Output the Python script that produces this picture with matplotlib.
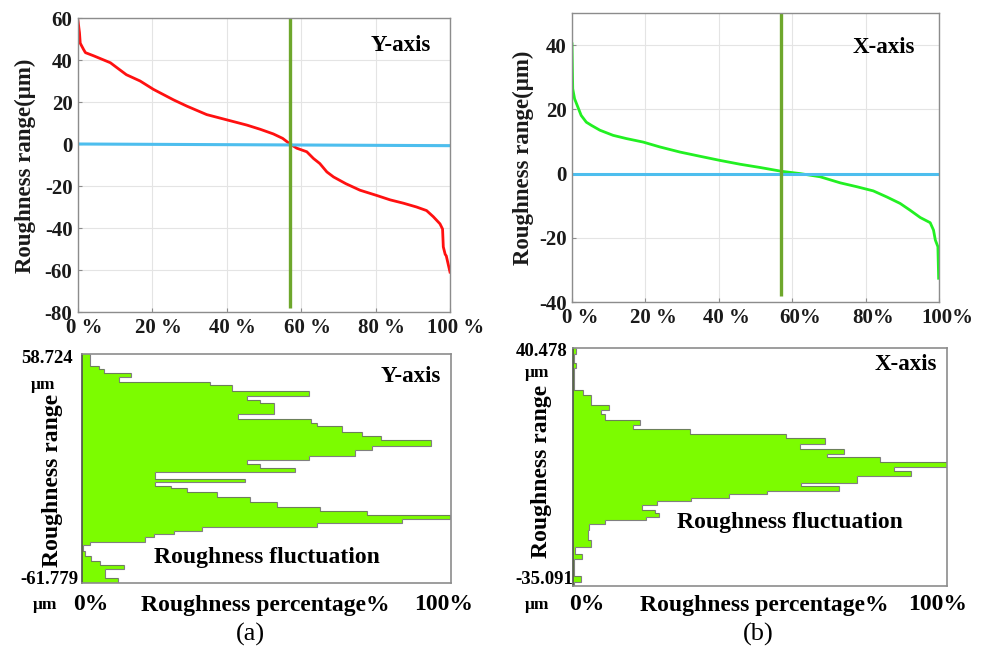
import numpy as np
import matplotlib
matplotlib.use("Agg")
import matplotlib.pyplot as plt
from matplotlib.transforms import ScaledTranslation

plt.rcParams["font.family"] = ["Liberation Serif", "DejaVu Serif"]
plt.rcParams["font.weight"] = "bold"
plt.rcParams["axes.unicode_minus"] = False

# ---- bearing curves (percentage of profile vs roughness height) ----
y_pct = [0, 0.4, 0.6, 1.5, 2, 4.2, 8.7, 10.5, 13, 16.7, 20.3, 25.7, 29.3, 34.6, 40,
         45.4, 49, 52.5, 55, 57, 58.8, 61.5, 63.3, 65, 66.9, 68.7, 72, 75.8, 80.3,
         83.9, 87.5, 91, 93.7, 95.5, 97.3, 98, 98.2, 98.7, 99, 100]
y_height = [58.7, 53, 48, 45, 43.5, 42, 38.7, 36.3, 33, 30, 26, 21, 18, 14, 11.5,
            9, 7, 4.8, 2.7, 0, -2, -3.7, -6.9, -9.3, -13.3, -15.7, -18.9, -22, -24.5,
            -26.6, -28.2, -30, -31.7, -34.6, -38, -40.5, -49, -52.5, -53.3, -61]
y_mean = [0.0, -0.8]

x_pct = [0, 0.1, 0.2, 0.7, 1.6, 2.5, 3.9, 5.3, 7.6, 11.2, 14.8, 19.4, 23.9, 29.4,
         34.8, 40.3, 45.8, 51.2, 57.1, 62.1, 67.6, 73.1, 77.6, 82.1, 85.8, 89.4,
         92.1, 94.9, 97.6, 98.5, 99, 99.7, 99.9]
x_height = [40.4, 33, 26.4, 23.3, 20.7, 18.1, 16, 15, 13.5, 11.9, 10.9, 9.8, 8.3,
            6.7, 5.4, 4.1, 2.9, 1.9, 0.7, 0, -1.0, -2.9, -4.1, -5.4, -7.3, -9.3,
            -11.4, -13.7, -15.3, -17.6, -20.7, -22.8, -32.6]
x_mean = [0.0, 0.0]

split_pct = 57

pct_ticks = [0, 20, 40, 60, 80, 100]
y_pct_labels = ["0 %", "20 %", "40 %", "60 %", "80 %", "100 %"]
x_pct_labels = ["0 %", "20 %", "40 %", "60%", "80%", "100%"]

# ---- roughness distributions (bin edges in um, widths in % of peak) ----
y_hist_edges = [58.72, 52.41, 50.83, 48.73, 46.88, 43.99, 42.41, 39.41, 36.62, 34.52,
                32.94, 27.15, 24.52, 22.57, 20.84, 17.84, 15.57, 13.47, 10.31, 8.21,
                5.05, 2.95, 0.84, -1.26, -3.37, -7.05, -8.79, -10.74, -11.79, -13.89,
                -16.52, -19.16, -21.79, -23.89, -26.00, -28.36, -30.21, -32.31, -34.41,
                -35.99, -37.57, -40.05, -41.78, -44.94, -47.57, -50.20, -52.31, -54.41,
                -59.15, -61.78]
y_hist_width = [2.1, 4.5, 6.0, 13.4, 10.0, 34.7, 40.6, 61.5, 44.7, 48.3, 52.0, 42.4,
                62.0, 63.7, 70.5, 76.0, 81.0, 94.5, 78.7, 74.0, 61.5, 44.7, 48.3, 57.8,
                19.8, 44.2, 19.8, 24.0, 28.4, 36.5, 45.6, 52.8, 64.6, 77.2, 99.8, 86.7,
                63.7, 32.5, 25.0, 19.4, 17.1, 2.2, 0.4, 0.8, 2.5, 5.0, 11.5, 6.2, 9.7]

x_hist_edges = [40.48, 38.67, 35.80, 34.22, 27.00, 25.41, 22.23, 20.86, 19.37, 17.69,
                16.09, 14.73, 13.07, 11.80, 10.05, 8.46, 6.87, 5.76, 4.17, 2.58, 1.31,
                -0.12, -2.35, -3.46, -4.89, -6.00, -7.11, -8.23, -9.34, -10.93, -12.04,
                -13.31, -14.27, -15.54, -17.29, -20.63, -22.85, -24.92, -26.51, -31.91,
                -33.82, -35.09]
x_hist_width = [0.9, 0.3, 0.9, 0.3, 2.7, 4.9, 9.5, 7.6, 8.5, 17.8, 16.0, 31.2, 57.0,
                67.5, 60.6, 72.4, 68.0, 82.2, 100, 85.9, 90.4, 76.0, 61.0, 71.2, 52.0,
                41.8, 31.6, 22.4, 18.4, 22.0, 23.0, 19.6, 8.5, 4.2, 4.0, 4.9, 0.5, 2.3,
                0.3, 2.2, 0.3]

y_range_labels = ["58.724", "-61.779"]
x_range_labels = ["40.478", "-35.091"]

W, H = 987, 652
fig = plt.figure(figsize=(W / 100, H / 100), dpi=100)


def rect(x0, y0, x1, y1):
    return [x0 / W, 1 - y1 / H, (x1 - x0) / W, (y1 - y0) / H]


def ftext(x, y, s, **kw):
    fig.text(x / W, 1 - y / H, s, ha="center", va="center", **kw)


FRAME = "#8c8c8c"
RED = "#ff1010"
LIME = "#22f022"
BLUE = "#4dbeee"
OLIVE = "#6ea72c"
FILL = "#7cfc00"


def curve_axes(pos, pct, height, mean, color, ylim, yticks, xlabels, name, name_xy,
               label_dx):
    ax = fig.add_axes(pos)
    ax.plot(pct, height, color=color, lw=2)
    ax.plot([0, 100], mean, color=BLUE, lw=2.2)
    ax.plot([split_pct, split_pct], [ylim[1], ylim[0] + 2], color=OLIVE, lw=2.4,
            solid_capstyle="butt")
    ax.set_xlim(0, 100)
    ax.set_ylim(*ylim)
    ax.set_xticks(pct_ticks)
    ax.set_xticklabels(xlabels)
    ax.set_yticks(yticks)
    ax.grid(True, color="#e4e4e4", lw=0.8)
    ax.set_axisbelow(True)
    for s in ax.spines.values():
        s.set_color(FRAME)
        s.set_linewidth(1.0)
    ax.tick_params(direction="in", length=3, color=FRAME, labelsize=15,
                   labelcolor="#1a1a1a", pad=4)
    for lab in ax.get_xticklabels():
        lab.set_fontweight("bold")
        lab.set_transform(lab.get_transform() +
                          ScaledTranslation(label_dx / 100, 0, fig.dpi_scale_trans))
    for lab in ax.get_yticklabels():
        lab.set_fontweight("bold")
    ax.text(*name_xy, name, transform=ax.transAxes, ha="center", va="center",
            fontsize=16.5, fontweight="bold")
    return ax


curve_axes(rect(78, 18, 450, 312), y_pct, y_height, y_mean, RED, (-80, 60),
           range(-80, 61, 20), y_pct_labels, "Y-axis", (0.868, 0.905), 6)
curve_axes(rect(572, 13, 939, 302), x_pct, x_height, x_mean, LIME, (-40, 50),
           range(-40, 41, 20), x_pct_labels, "X-axis", (0.85, 0.88), 8)
ftext(25, 166, "Roughness range(μm)", rotation=90, fontsize=16.5, fontweight="bold",
      color="#1a1a1a")
ftext(523, 158, "Roughness range(μm)", rotation=90, fontsize=16.5, fontweight="bold",
      color="#1a1a1a")


def hist_axes(pos, edges, widths, name, name_xy, fluct_xy):
    ax = fig.add_axes(pos)
    e = np.asarray(edges)[::-1]
    w = np.asarray(widths)[::-1]
    ax.stairs(w, e, orientation="horizontal", fill=True, color=FILL, baseline=0)
    ax.stairs(w, e, orientation="horizontal", fill=False, color="#6a6a6a", lw=0.8,
              alpha=0.85, baseline=None)
    ax.set_xlim(0, 100)
    ax.set_ylim(e[0], e[-1])
    ax.set_xticks([])
    ax.set_yticks([])
    for s in ax.spines.values():
        s.set_color(FRAME)
        s.set_linewidth(1.2)
    ax.spines["left"].set_color("#505050")
    ax.text(*name_xy, name, transform=ax.transAxes, ha="center", va="center",
            fontsize=16.5, fontweight="bold")
    ax.text(*fluct_xy, "Roughness fluctuation", transform=ax.transAxes,
            ha="center", va="center", fontsize=17, fontweight="bold")
    return ax


hist_axes(rect(82, 354, 451, 583), y_hist_edges, y_hist_width, "Y-axis",
          (0.89, 0.9), (0.50, 0.11))
hist_axes(rect(573, 348, 947, 586), x_hist_edges, x_hist_width, "X-axis",
          (0.89, 0.93), (0.58, 0.265))

# annotations around the distribution panels
for cx, top_lab, bot_lab, rr_x, rr_y, zero_x, mid_x, full_x, cap, cap_x in [
        (47, y_range_labels[0], y_range_labels[1], 53, 480, 91, 265, 444, "(a)", 250),
        (542, x_range_labels[0], x_range_labels[1], 542, 471, 587, 764, 938, "(b)", 758)]:
    top_y = 358 if cap == "(a)" else 352
    um_y = 385 if cap == "(a)" else 373
    ftext(cx, top_y, top_lab, fontsize=13.5, fontweight="bold")
    ftext(cx - 4 if cap == "(a)" else cx - 5, um_y, "μm", fontsize=12.5,
          fontweight="bold")
    ftext(cx + 2, 580, bot_lab, fontsize=13.5, fontweight="bold")
    ftext(cx - 2 if cap == "(a)" else cx - 5, 605, "μm", fontsize=12.5,
          fontweight="bold")
    ftext(rr_x, rr_y, "Roughness range", rotation=90, fontsize=17, fontweight="bold")
    ftext(zero_x, 605, "0%", fontsize=17, fontweight="bold")
    ftext(mid_x, 605, "Roughness percentage%", fontsize=17, fontweight="bold")
    ftext(full_x, 605, "100%", fontsize=17, fontweight="bold")
    ftext(cap_x, 634, cap, fontsize=19, fontweight="normal")

fig.savefig("out.png", dpi=100, facecolor="white")
